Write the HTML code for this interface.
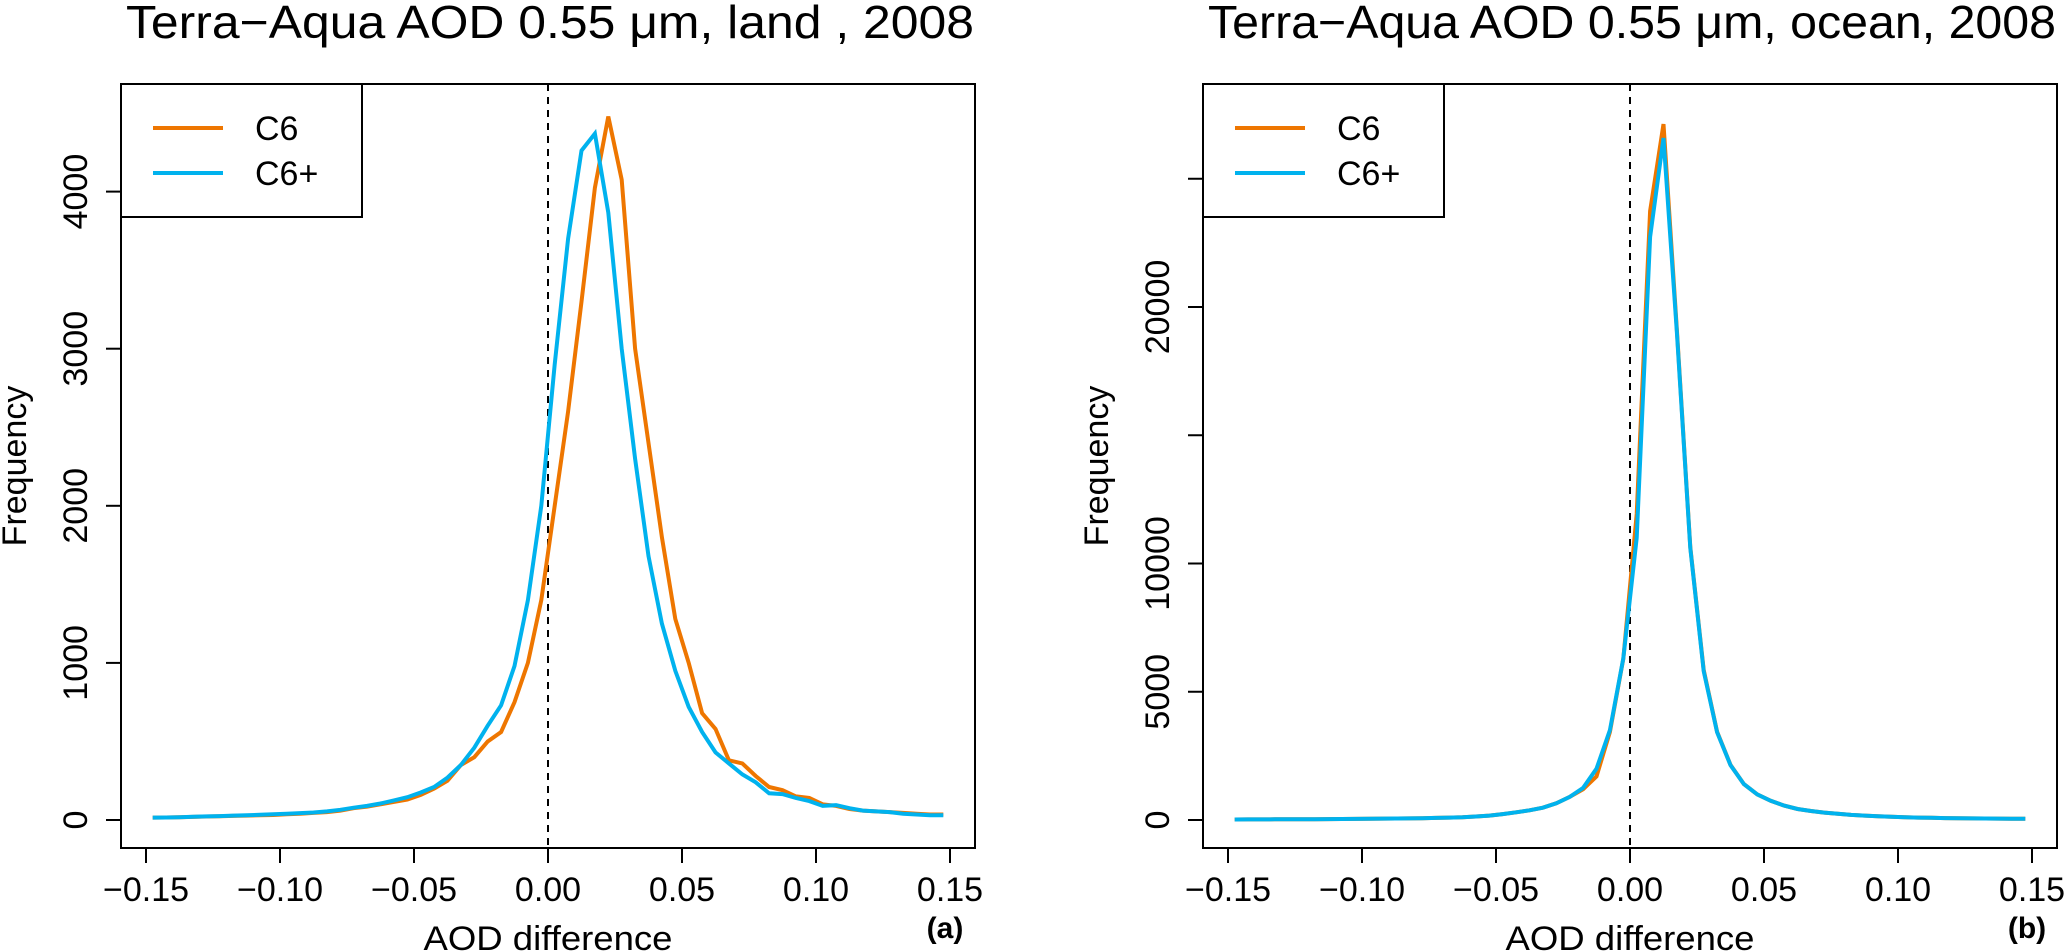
<!DOCTYPE html>
<html><head><meta charset="utf-8"><style>
html,body{margin:0;padding:0;background:#fff;}
svg{display:block;font-family:"Liberation Sans",Arial,sans-serif;}
</style></head><body>
<svg id="fig" width="2067" height="952" viewBox="0 0 2067 952" xmlns="http://www.w3.org/2000/svg"></svg>
<script>
const xCenters = [];
for (let i = 0; i < 60; i++) xCenters.push(-0.1475 + i * 0.005);
const xTicks = [-0.15, -0.10, -0.05, 0.00, 0.05, 0.10, 0.15];
const xTickLabels = ["\u22120.15", "\u22120.10", "\u22120.05", "0.00", "0.05", "0.10", "0.15"];
const landYTicks = [0, 1000, 2000, 3000, 4000];
const landYLabels = ["0", "1000", "2000", "3000", "4000"];
const oceanYTicks = [0, 5000, 10000, 15000, 20000, 25000];
const oceanYLabels = ["0", "5000", "10000", "", "20000", ""];
const landC6 = [15,16,18,20,22,24,26,28,30,32,36,40,45,50,60,75,85,100,115,130,160,200,250,350,400,500,560,750,1000,1400,2000,2600,3300,4025,4478,4076,3000,2400,1800,1280,1000,680,580,380,360,280,210,190,150,140,100,90,70,60,55,50,45,40,35,35];
const landC6p = [15,16,18,21,23,25,28,30,33,36,40,44,48,55,65,78,90,105,125,145,175,210,270,350,460,600,730,980,1400,2000,2900,3700,4261,4369,3866,3000,2300,1680,1250,950,720,560,430,360,290,240,170,165,140,120,90,95,75,60,55,50,40,35,30,30];
const oceanC6 = [20,22,24,26,28,30,33,36,40,44,48,53,58,64,70,80,95,110,135,170,230,300,380,480,650,900,1200,1700,3430,6280,11930,23740,27130,19100,10640,5850,3440,2150,1400,1000,750,560,430,350,290,240,200,170,145,125,110,95,85,75,68,62,57,53,50,47];
const oceanC6p = [20,22,24,26,28,30,33,36,40,44,48,53,58,64,70,80,95,110,135,170,230,300,380,480,650,900,1250,2000,3500,6300,11000,22730,26590,19000,10600,5800,3420,2140,1400,1000,750,560,430,350,290,240,200,170,145,125,110,95,85,75,68,62,57,53,50,47];

const NS = "http://www.w3.org/2000/svg";
const svg = document.getElementById("fig");
function mk(tag, attrs, parent) {
  const e = document.createElementNS(NS, tag);
  for (const k in attrs) e.setAttribute(k, attrs[k]);
  (parent || svg).appendChild(e);
  return e;
}
const ORANGE = "#EE7600", BLUE = "#00B2EE";

function panel(off, title, yTicks, yLabels, yPerUnit, s1, s2, tag, key) {
  const g = mk("g", {});
  
  
  const L = 121 + off, R = 975 + off, T = 84, B = 848;
  const xs = v => 548 + off + v * 2680;
  const ys = v => 820 - v * yPerUnit;

  const t = mk("text", {x: 126 + off, y: 38, "font-size": 46, fill: "#000", textLength: 848, lengthAdjust: "spacingAndGlyphs"}, g);
  t.textContent = title;
  
  

  const box = mk("rect", {x: L, y: T, width: R - L, height: B - T, fill: "none", stroke: "#000", "stroke-width": 2}, g);
  
  

  xTicks.forEach((v, i) => {
    const ln = mk("line", {x1: xs(v), x2: xs(v), y1: B, y2: 863, stroke: "#000", "stroke-width": 2}, g);
    
    
    const tx = mk("text", {x: xs(v), y: 901, "font-size": 34, "text-anchor": "middle"}, g);
    tx.textContent = xTickLabels[i];
    
    
  });
  yTicks.forEach((v, i) => {
    const ln = mk("line", {x1: 106 + off, x2: L, y1: ys(v), y2: ys(v), stroke: "#000", "stroke-width": 2}, g);
    
    
    if (yLabels[i]) {
      const tx = mk("text", {x: 0, y: 0, "font-size": 34, "text-anchor": "middle", transform: `translate(${87 + off},${ys(v)}) rotate(-90)`}, g);
      tx.textContent = yLabels[i];
      
      
    }
  });
  const xl = mk("text", {x: 548 + off, y: 950, "font-size": 34, "text-anchor": "middle", textLength: 249, lengthAdjust: "spacingAndGlyphs"}, g);
  xl.textContent = "AOD difference";
  
  
  const yl = mk("text", {x: 0, y: 0, "font-size": 34, "text-anchor": "middle", transform: `translate(${26 + off},466) rotate(-90)`}, g);
  yl.textContent = "Frequency";
  
  

  const zl = mk("line", {x1: xs(0), x2: xs(0), y1: T, y2: B, stroke: "#000", "stroke-width": 2, "stroke-dasharray": "7,6"}, g);
  
  

  [[s1, ORANGE, 'c6'], [s2, BLUE, 'c6plus']].forEach(([s, c, n]) => {
    const pts = s.map((v, i) => xs(xCenters[i]).toFixed(1) + "," + ys(v).toFixed(1)).join(" ");
    const pl = mk("polyline", {points: pts, fill: "none", stroke: c, "stroke-width": 4, "stroke-linejoin": "miter"}, g);
    
    
  });

  const lg = mk("g", {}, g);
  
  
  mk("rect", {x: L, y: T, width: 241, height: 133, fill: "#fff", stroke: "#000", "stroke-width": 2}, lg);
  [["C6", ORANGE, 128], ["C6+", BLUE, 173]].forEach(([lab, c, y]) => {
    const e = mk("line", {x1: 153 + off, x2: 223 + off, y1: y, y2: y, stroke: c, "stroke-width": 4}, lg);
    
    
    const tx = mk("text", {x: 255 + off, y: y + 12, "font-size": 34}, lg);
    tx.textContent = lab;
    
    
  });

  const tg = mk("text", {x: 945 + off, y: 938, "font-size": 30, "font-weight": "bold", "text-anchor": "middle"}, g);
  tg.textContent = tag;
  
  
}
panel(0, "Terra\u2212Aqua AOD 0.55 \u03bcm, land , 2008", landYTicks, landYLabels, 0.1571, landC6, landC6p, "(a)", "land");
panel(1082, "Terra\u2212Aqua AOD 0.55 \u03bcm, ocean, 2008", oceanYTicks, oceanYLabels, 0.02565, oceanC6, oceanC6p, "(b)", "ocean");
</script>
</body></html>
